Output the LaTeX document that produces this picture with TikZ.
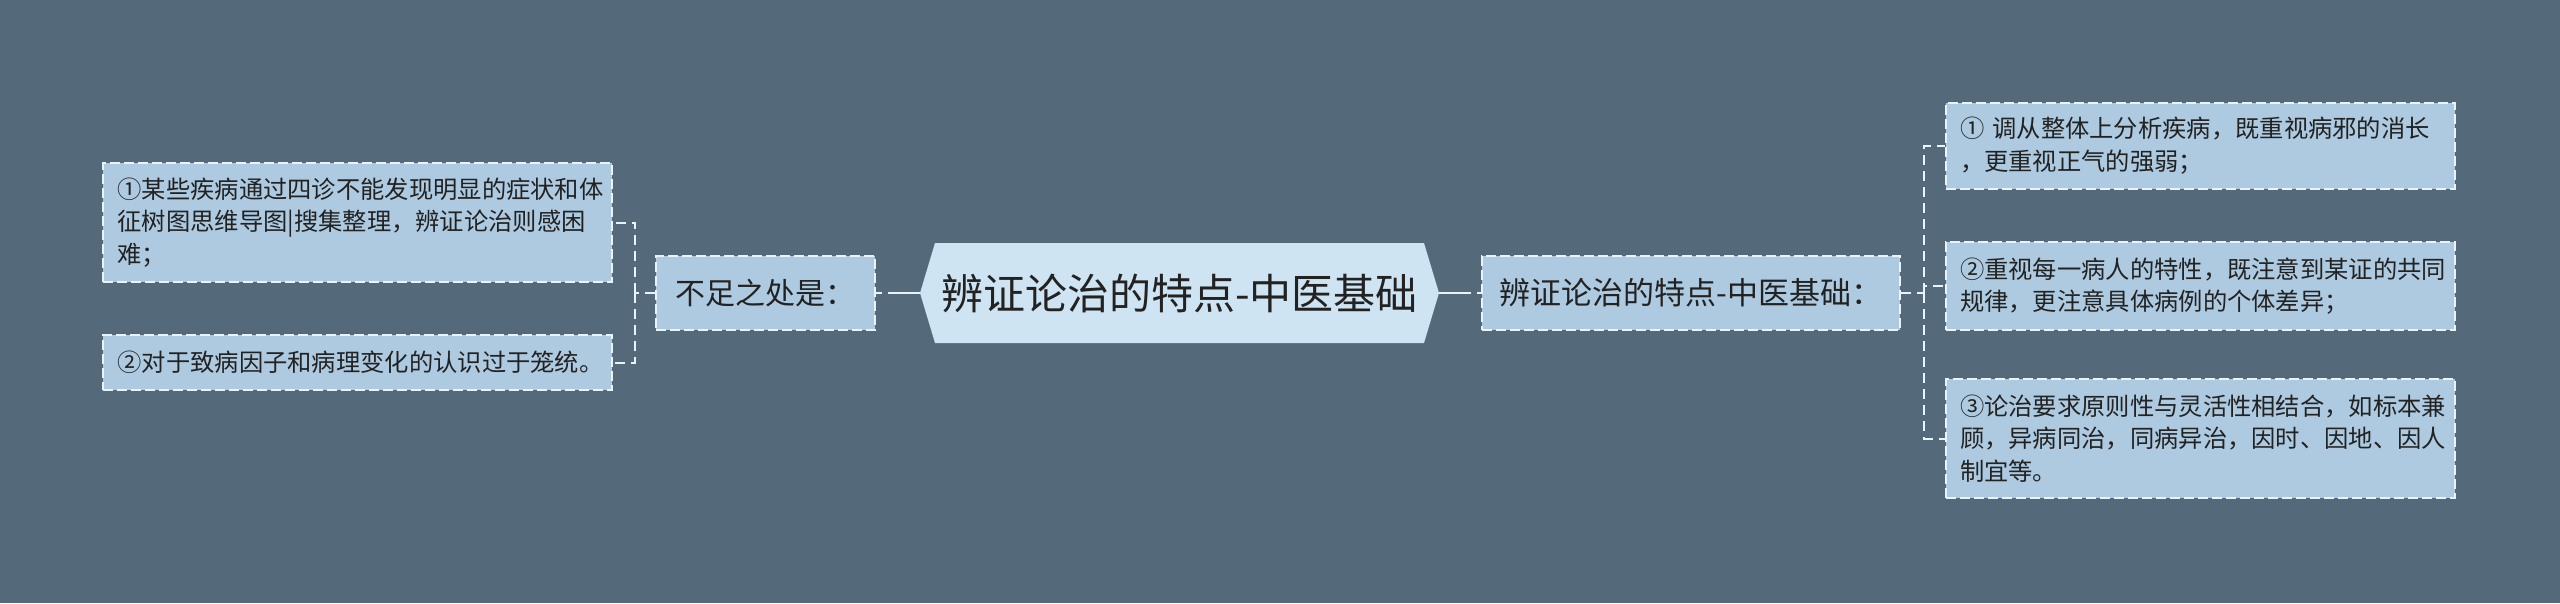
\documentclass[tikz,border=0pt]{standalone}
\usepackage{fontspec}
\setmainfont{Noto Sans CJK SC}
\definecolor{bgc}{RGB}{84,106,122}
\definecolor{boxc}{RGB}{173,202,225}
\definecolor{hexc}{RGB}{207,228,242}
\definecolor{bordc}{RGB}{232,243,251}
\definecolor{txtc}{RGB}{34,34,34}
\tikzset{
  leaf/.style={draw=bordc, line width=2pt, dash pattern=on 10pt off 4pt, fill=boxc, text=txtc,
    font=\fontsize{24.3pt}{32.7pt}\selectfont, text width=480pt, align=left, inner xsep=14.5pt, inner ysep=0pt},
  midbox/.style={draw=bordc, line width=2pt, dash pattern=on 10pt off 4pt, fill=boxc, text=txtc,
    inner sep=0pt},
  conn/.style={draw=bordc, line width=2.5pt, dash pattern=on 32pt off 6pt},
  dconn/.style={draw=bordc, line width=2pt, dash pattern=on 10pt off 6pt},
}
\begin{document}
\begin{tikzpicture}[x=1pt,y=-1pt]
\fill[bgc] (0,0) rectangle (2560,603);
\useasboundingbox (0,0) rectangle (2560,603);
% central hexagon
\fill[hexc] (920,293) -- (935,243) -- (1424,243) -- (1439,293) -- (1424,343) -- (935,343) -- cycle;
\node (C) at (1179.5,293) [minimum width=519pt, minimum height=100pt, inner sep=0pt, text=txtc,
  font=\fontsize{42pt}{42pt}\selectfont] {辨证论治的特点-中医基础};
% mid boxes
\node[midbox, minimum width=219pt, minimum height=74pt, font=\fontsize{30pt}{35pt}\selectfont] (LM) at (765.5,293) {不足之处是：};
\node[midbox, minimum width=418pt, minimum height=74pt, font=\fontsize{31pt}{35pt}\selectfont] (RM) at (1691,293) {辨证论治的特点-中医基础：};
% left leaves
\node[leaf, minimum height=119pt] (L1) at (357.5,222.5) {①某些疾病通过四诊不能发现明显的症状和体\\征树图思维导图|搜集整理，辨证论治则感困\\难；};
\node[leaf, minimum height=55pt] (L2) at (357.5,362.5) {②对于致病因子和病理变化的认识过于笼统。};
% right leaves
\node[leaf, minimum height=86pt] (R1) at (2200,146) {① 调从整体上分析疾病，既重视病邪的消长\\，更重视正气的强弱；};
\node[leaf, minimum height=88pt] (R2) at (2200,286) {②重视每一病人的特性，既注意到某证的共同\\规律，更注意具体病例的个体差异；};
\node[leaf, minimum height=119pt] (R3) at (2200,438.5) {③论治要求原则性与灵活性相结合，如标本兼\\顾，异病同治，同病异治，因时、因地、因人\\制宜等。};
% connectors
\draw[conn] (C.east) -- (RM.west);
\draw[conn] (C.west) -- (LM.east);
\coordinate (lj) at (635,293);
\coordinate (rj) at (1924,293);
\draw[dconn] (LM.west) -- (lj);
\draw[dconn] (lj) |- (L1.east);
\draw[dconn] (lj) |- (L2.east);
\draw[dconn] (RM.east) -- (rj);
\draw[dconn] (rj) |- (R1.west);
\draw[dconn] (rj) |- (R2.west);
\draw[dconn] (rj) |- (R3.west);
\end{tikzpicture}
\end{document}
